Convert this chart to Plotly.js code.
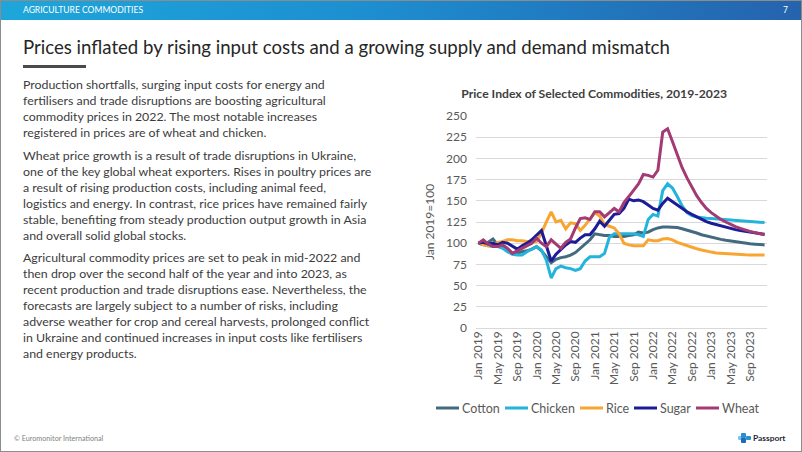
<!DOCTYPE html>
<html>
<head>
<meta charset="utf-8">
<script src="https://cdn.plot.ly/plotly-3.0.1.min.js"></script>
<style>
  html, body { margin: 0; padding: 0; background: #fff; }
  #slide { position: relative; width: 802px; height: 452px; overflow: hidden; background: #fff; font-family: Lato, "Open Sans", sans-serif; }
  #banner { position: absolute; left: 0; top: 0; width: 802px; height: 20px; background: linear-gradient(to right, #1ea6da 0%, #1d8fd0 45%, #2563ad 100%); }
  #bannerText { position: absolute; left: 23px; top: 0; height: 20px; line-height: 20px; color: #fff; font-size: 8.2px; white-space: nowrap; }
  #pageNum { position: absolute; right: 14px; top: 0; height: 20px; line-height: 20px; color: #fff; font-size: 8.5px; }
  #title { position: absolute; left: 23px; top: 35px; line-height: 24px; color: #262626; font-size: 17px; white-space: nowrap; }
  #bar { position: absolute; left: 23px; top: 65px; width: 63px; height: 3px; background: #4a4a4a; }
  .line { position: absolute; left: 23px; height: 16px; line-height: 16px; color: #3c3c3c; font-size: 11.2px; white-space: nowrap; }
  #chart { position: absolute; left: 400px; top: 80px; width: 402px; height: 352px; }
  #copy { position: absolute; left: 14px; top: 433px; line-height: 12px; font-size: 7.2px; color: #7f7f7f; white-space: nowrap; }
  #passport { position: absolute; left: 738px; top: 431px; height: 14px; display: flex; align-items: center; }
  #passport span { font-size: 8.4px; font-weight: bold; color: #1f1f3a; margin-left: 2px; }
  #frame { position: absolute; left: 0; top: 0; width: 802px; height: 452px; box-sizing: border-box; border: 1px solid #8c8c8c; pointer-events: none; }
</style>
</head>
<body>
<div id="slide">
  <div id="banner"></div>
  <div id="bannerText">AGRICULTURE COMMODITIES</div>
  <div id="pageNum">7</div>
  <div id="title">Prices inflated by rising input costs and a growing supply and demand mismatch</div>
  <div id="bar"></div>
  <div id="body"></div>
  <div id="chart"></div>
  <div id="copy">© Euromonitor International</div>
  <div id="passport">
    <svg width="13" height="10" viewBox="0 0 13 10">
      <rect x="0" y="3" width="4" height="4" rx="1" fill="#7fc3ec"/>
      <rect x="3" y="0" width="5" height="5" rx="1" fill="#2b8fd3"/>
      <rect x="3" y="5" width="5" height="5" rx="1" fill="#1a6cb5"/>
      <rect x="8" y="3" width="5" height="4" rx="1" fill="#2b8fd3"/>
    </svg>
    <span>Passport</span>
  </div>
  <div id="frame"></div>
</div>
<script>
// ---- Chart data ----
const monthNames = ["Jan","Feb","Mar","Apr","May","Jun","Jul","Aug","Sep","Oct","Nov","Dec"];
const years = [2019, 2020, 2021, 2022, 2023];
const tickEvery = 4;

const cotton = [
  100, 99, 101, 105, 98, 97, 93, 88, 88, 90, 91, 93,
  96, 91, 84, 77, 81, 83, 84, 86, 89, 94, 98, 104,
  111, 110, 109, 109, 108, 108, 108, 109, 110, 113, 112, 113,
  116, 118, 119, 119, 119, 118.5, 117, 115.5, 114, 112, 110, 108.5,
  107, 105.5, 104.5, 103.5, 102.5, 101.5, 100.5, 100, 99.3, 98.8, 98.3, 98
];
const chicken = [
  100, 98, 97, 96, 96, 94, 90, 87, 86, 86, 90, 93,
  96, 92, 80, 59, 70, 73, 71, 70, 68, 70, 79, 84,
  84, 84, 88, 107, 111, 111, 111, 111, 111, 110, 108, 128,
  134, 132, 162, 170, 165, 155, 144, 136, 132.5, 131, 130, 129.5,
  129, 128.5, 128, 127.5, 127, 126.5, 126, 125.7, 125.3, 125, 124.7, 124.5
];
const rice = [
  100, 98, 97, 99, 101, 102, 104, 104, 103, 103, 102, 101,
  102, 112, 125, 137, 125, 127, 117, 124, 123, 115, 121, 129,
  136, 132, 122, 120, 118, 111, 100, 98, 97, 97, 97, 104,
  103, 103, 105, 105.5, 104, 101, 99, 97, 95, 93.5, 92, 90.5,
  89.5, 88.5, 88, 87.5, 87, 86.7, 86.5, 86.3, 86.2, 86.1, 86, 86
];
const sugar = [
  100, 101, 99, 100, 98, 101, 100, 96, 93, 97, 100, 104,
  109, 115, 97, 79, 87, 93, 98, 102, 101, 106, 110, 110,
  117, 126, 120, 127, 134, 135, 141, 152, 150, 151, 149, 145,
  141, 139, 147, 153, 149, 145, 140, 137, 134, 131, 128, 125.5,
  123.5, 122, 120, 118.5, 117, 116, 115, 114, 113, 112, 111, 110.5
];
const wheat = [
  100, 104, 99, 96, 96, 98, 94, 88, 91, 94, 97, 100,
  106, 100, 96, 104, 99, 94, 101, 105, 118, 129, 130, 128,
  137, 137, 131, 136, 141, 137, 148, 155, 162, 170, 181, 180,
  178, 186, 231, 235, 220, 204, 189, 177, 166, 156, 148, 141,
  136, 131.5, 128, 125, 122, 119.5, 117.5, 115.5, 114, 112.5, 111, 110
];

const seriesNames = ["Cotton", "Chicken", "Rice", "Sugar", "Wheat"];
const seriesValues = [cotton, chicken, rice, sugar, wheat];
const seriesColors = ["#436a7f", "#22b4dc", "#f9a532", "#1c1c97", "#a33a74"];

const months = [];
years.forEach(y => monthNames.forEach(m => months.push(m + " " + y)));
const tickLabels = months.filter((_, i) => i % tickEvery === 0);

// ---- Slide text ----
const bodyLines = [
  ["Production shortfalls, surging input costs for energy and", 85],
  ["fertilisers and trade disruptions are boosting agricultural", 101],
  ["commodity prices in 2022. The most notable increases", 117],
  ["registered in prices are of wheat and chicken.", 133],
  ["Wheat price growth is a result of trade disruptions in Ukraine,", 156],
  ["one of the key global wheat exporters. Rises in poultry prices are", 172],
  ["a result of rising production costs, including animal feed,", 188],
  ["logistics and energy. In contrast, rice prices have remained fairly", 204],
  ["stable, benefiting from steady production output growth in Asia", 220],
  ["and overall solid global stocks.", 236],
  ["Agricultural commodity prices are set to peak in mid-2022 and", 258],
  ["then drop over the second half of the year and into 2023, as", 274],
  ["recent production and trade disruptions ease. Nevertheless, the", 290],
  ["forecasts are largely subject to a number of risks, including", 306],
  ["adverse weather for crop and cereal harvests, prolonged conflict", 322],
  ["in Ukraine and continued increases in input costs like fertilisers", 338],
  ["and energy products.", 354]
];
const bodyEl = document.getElementById("body");
const lineEls = bodyLines.map(([t, y]) => {
  const d = document.createElement("div");
  d.className = "line";
  d.style.top = (y - 8) + "px";
  d.textContent = t;
  bodyEl.appendChild(d);
  return d;
});
(function fitText() {
  const ref = lineEls[5];
  const w = ref.getBoundingClientRect().width;
  const fs = parseFloat(getComputedStyle(ref).fontSize) * 348 / w;
  lineEls.forEach(e => e.style.fontSize = fs + "px");
  const ti = document.getElementById("title");
  const tw = ti.getBoundingClientRect().width;
  ti.style.fontSize = (parseFloat(getComputedStyle(ti).fontSize) * 647 / tw) + "px";
  const bt = document.getElementById("bannerText");
  const bw = bt.getBoundingClientRect().width;
  bt.style.fontSize = (parseFloat(getComputedStyle(bt).fontSize) * 120 / bw) + "px";
})();

// ---- Chart ----
const traces = seriesNames.map((name, k) => ({
  type: "scatter",
  mode: "lines",
  name: name,
  x: months,
  y: seriesValues[k],
  line: { color: seriesColors[k], width: 3 },
  hoverinfo: "skip",
  showlegend: false
}));

const fontFam = "Lato, 'Open Sans', sans-serif";
const M = { l: 76, r: 35, t: 36, b: 104 };
const W = 402, H = 352;
const plotW = W - M.l - M.r, plotH = H - M.t - M.b;

// legend drawn beneath the plot (sample line + label), positioned like the reference
const legendLeftPx = [36, 105, 180, 234, 296];   // sample start, px from chart div left
const legendSample = 23, legendCenterPx = 328;   // px from chart div top
const toPX = px => (px - M.l) / plotW;
const toPY = py => (H - M.b - py) / plotH;
const legendShapes = seriesNames.map((n, k) => ({
  type: "line", xref: "paper", yref: "paper",
  x0: toPX(legendLeftPx[k]), x1: toPX(legendLeftPx[k] + legendSample),
  y0: toPY(legendCenterPx), y1: toPY(legendCenterPx),
  line: { color: seriesColors[k], width: 3 }
}));
const legendTexts = seriesNames.map((n, k) => ({
  xref: "paper", yref: "paper",
  x: toPX(legendLeftPx[k] + legendSample + 1), y: toPY(legendCenterPx),
  xanchor: "left", yanchor: "middle", showarrow: false,
  text: n, font: { family: fontFam, size: 12.5, color: "#595959" }
}));

const layout = {
  width: W,
  height: H,
  margin: M,
  paper_bgcolor: "rgba(0,0,0,0)",
  plot_bgcolor: "#ffffff",
  font: { family: fontFam, color: "#595959", size: 12 },
  title: {
    text: "<b>Price Index of Selected Commodities, 2019-2023</b>",
    font: { family: fontFam, size: 12.2, color: "#404040" },
    x: 0.483, xref: "container", xanchor: "center",
    y: 1 - 14 / H, yref: "container", yanchor: "middle"
  },
  xaxis: {
    type: "category",
    range: [-0.5, months.length - 0.5],
    tickmode: "array",
    tickvals: tickLabels,
    ticktext: tickLabels,
    tickangle: -90,
    showgrid: false,
    showline: false,
    zeroline: false,
    ticks: "",
    tickfont: { family: fontFam, size: 12, color: "#595959" },
    fixedrange: true
  },
  yaxis: {
    range: [0, 250],
    tick0: 0,
    dtick: 25,
    showgrid: true,
    gridcolor: "#d9d9d9",
    gridwidth: 1,
    zeroline: true,
    zerolinecolor: "#d9d9d9",
    zerolinewidth: 1,
    showline: false,
    ticks: "",
    ticklabelstandoff: 8,
    tickfont: { family: fontFam, size: 12, color: "#595959" },
    title: { text: "Jan 2019=100", font: { family: fontFam, size: 12, color: "#595959" }, standoff: 8 },
    fixedrange: true
  },
  showlegend: false,
  shapes: legendShapes,
  annotations: legendTexts
};

Plotly.newPlot("chart", traces, layout, { displayModeBar: false, staticPlot: true });
</script>
</body>
</html>
